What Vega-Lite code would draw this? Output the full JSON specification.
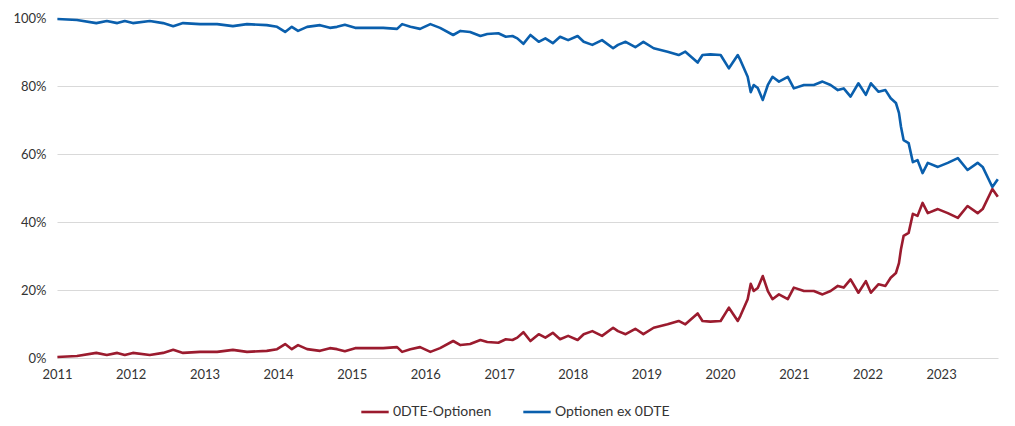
{
  "$schema": "https://vega.github.io/schema/vega-lite/v6.json",
  "width": 941,
  "height": 340,
  "autosize": {"type": "none"},
  "padding": {"left": 57, "top": 18, "right": 17, "bottom": 68},
  "background": "white",
  "config": {
    "view": {"stroke": null},
    "font": "Lato",
    "axis": {"labelFont": "Lato", "labelFontSize": 13, "labelColor": "#333333"},
    "legend": {"labelFont": "Lato", "labelFontSize": 14, "labelColor": "#333333"}
  },
  "data": {
    "values": [
      {"date": "2011-01-03", "0DTE-Optionen": 0.3, "Optionen ex 0DTE": 99.7},
      {"date": "2011-04-10", "0DTE-Optionen": 0.6, "Optionen ex 0DTE": 99.4},
      {"date": "2011-07-15", "0DTE-Optionen": 1.5, "Optionen ex 0DTE": 98.5},
      {"date": "2011-09-05", "0DTE-Optionen": 0.9, "Optionen ex 0DTE": 99.1},
      {"date": "2011-10-27", "0DTE-Optionen": 1.5, "Optionen ex 0DTE": 98.5},
      {"date": "2011-12-03", "0DTE-Optionen": 0.9, "Optionen ex 0DTE": 99.1},
      {"date": "2012-01-12", "0DTE-Optionen": 1.5, "Optionen ex 0DTE": 98.5},
      {"date": "2012-04-05", "0DTE-Optionen": 0.9, "Optionen ex 0DTE": 99.1},
      {"date": "2012-06-10", "0DTE-Optionen": 1.5, "Optionen ex 0DTE": 98.5},
      {"date": "2012-07-30", "0DTE-Optionen": 2.4, "Optionen ex 0DTE": 97.6},
      {"date": "2012-09-17", "0DTE-Optionen": 1.5, "Optionen ex 0DTE": 98.5},
      {"date": "2012-12-10", "0DTE-Optionen": 1.8, "Optionen ex 0DTE": 98.2},
      {"date": "2013-03-05", "0DTE-Optionen": 1.8, "Optionen ex 0DTE": 98.2},
      {"date": "2013-05-22", "0DTE-Optionen": 2.4, "Optionen ex 0DTE": 97.6},
      {"date": "2013-07-31", "0DTE-Optionen": 1.8, "Optionen ex 0DTE": 98.2},
      {"date": "2013-11-06", "0DTE-Optionen": 2.1, "Optionen ex 0DTE": 97.9},
      {"date": "2013-12-27", "0DTE-Optionen": 2.6, "Optionen ex 0DTE": 97.4},
      {"date": "2014-02-05", "0DTE-Optionen": 4.1, "Optionen ex 0DTE": 95.9},
      {"date": "2014-03-10", "0DTE-Optionen": 2.6, "Optionen ex 0DTE": 97.4},
      {"date": "2014-04-10", "0DTE-Optionen": 3.8, "Optionen ex 0DTE": 96.2},
      {"date": "2014-05-25", "0DTE-Optionen": 2.6, "Optionen ex 0DTE": 97.4},
      {"date": "2014-07-28", "0DTE-Optionen": 2.1, "Optionen ex 0DTE": 97.9},
      {"date": "2014-09-15", "0DTE-Optionen": 2.9, "Optionen ex 0DTE": 97.1},
      {"date": "2014-10-20", "0DTE-Optionen": 2.6, "Optionen ex 0DTE": 97.4},
      {"date": "2014-11-28", "0DTE-Optionen": 2.0, "Optionen ex 0DTE": 98.0},
      {"date": "2015-01-18", "0DTE-Optionen": 2.9, "Optionen ex 0DTE": 97.1},
      {"date": "2015-04-02", "0DTE-Optionen": 2.9, "Optionen ex 0DTE": 97.1},
      {"date": "2015-06-06", "0DTE-Optionen": 2.9, "Optionen ex 0DTE": 97.1},
      {"date": "2015-08-14", "0DTE-Optionen": 3.2, "Optionen ex 0DTE": 96.8},
      {"date": "2015-09-08", "0DTE-Optionen": 1.8, "Optionen ex 0DTE": 98.2},
      {"date": "2015-10-19", "0DTE-Optionen": 2.6, "Optionen ex 0DTE": 97.4},
      {"date": "2015-12-06", "0DTE-Optionen": 3.2, "Optionen ex 0DTE": 96.8},
      {"date": "2016-01-26", "0DTE-Optionen": 1.8, "Optionen ex 0DTE": 98.2},
      {"date": "2016-03-14", "0DTE-Optionen": 2.9, "Optionen ex 0DTE": 97.1},
      {"date": "2016-05-18", "0DTE-Optionen": 5.0, "Optionen ex 0DTE": 95.0},
      {"date": "2016-06-23", "0DTE-Optionen": 3.8, "Optionen ex 0DTE": 96.2},
      {"date": "2016-08-10", "0DTE-Optionen": 4.1, "Optionen ex 0DTE": 95.9},
      {"date": "2016-09-30", "0DTE-Optionen": 5.3, "Optionen ex 0DTE": 94.7},
      {"date": "2016-11-03", "0DTE-Optionen": 4.7, "Optionen ex 0DTE": 95.3},
      {"date": "2016-12-28", "0DTE-Optionen": 4.5, "Optionen ex 0DTE": 95.5},
      {"date": "2017-02-03", "0DTE-Optionen": 5.5, "Optionen ex 0DTE": 94.5},
      {"date": "2017-03-08", "0DTE-Optionen": 5.3, "Optionen ex 0DTE": 94.7},
      {"date": "2017-04-01", "0DTE-Optionen": 6.0, "Optionen ex 0DTE": 94.0},
      {"date": "2017-05-01", "0DTE-Optionen": 7.6, "Optionen ex 0DTE": 92.4},
      {"date": "2017-06-05", "0DTE-Optionen": 5.0, "Optionen ex 0DTE": 95.0},
      {"date": "2017-07-16", "0DTE-Optionen": 7.0, "Optionen ex 0DTE": 93.0},
      {"date": "2017-08-18", "0DTE-Optionen": 6.0, "Optionen ex 0DTE": 94.0},
      {"date": "2017-09-24", "0DTE-Optionen": 7.4, "Optionen ex 0DTE": 92.6},
      {"date": "2017-10-30", "0DTE-Optionen": 5.5, "Optionen ex 0DTE": 94.5},
      {"date": "2017-12-09", "0DTE-Optionen": 6.5, "Optionen ex 0DTE": 93.5},
      {"date": "2018-01-25", "0DTE-Optionen": 5.3, "Optionen ex 0DTE": 94.7},
      {"date": "2018-02-24", "0DTE-Optionen": 7.0, "Optionen ex 0DTE": 93.0},
      {"date": "2018-04-08", "0DTE-Optionen": 7.9, "Optionen ex 0DTE": 92.1},
      {"date": "2018-05-26", "0DTE-Optionen": 6.5, "Optionen ex 0DTE": 93.5},
      {"date": "2018-07-20", "0DTE-Optionen": 8.9, "Optionen ex 0DTE": 91.1},
      {"date": "2018-08-13", "0DTE-Optionen": 7.9, "Optionen ex 0DTE": 92.1},
      {"date": "2018-09-20", "0DTE-Optionen": 7.0, "Optionen ex 0DTE": 93.0},
      {"date": "2018-11-07", "0DTE-Optionen": 8.6, "Optionen ex 0DTE": 91.4},
      {"date": "2018-12-17", "0DTE-Optionen": 7.0, "Optionen ex 0DTE": 93.0},
      {"date": "2019-02-06", "0DTE-Optionen": 8.9, "Optionen ex 0DTE": 91.1},
      {"date": "2019-04-16", "0DTE-Optionen": 9.9, "Optionen ex 0DTE": 90.1},
      {"date": "2019-06-10", "0DTE-Optionen": 10.9, "Optionen ex 0DTE": 89.1},
      {"date": "2019-07-13", "0DTE-Optionen": 9.9, "Optionen ex 0DTE": 90.1},
      {"date": "2019-09-12", "0DTE-Optionen": 13.1, "Optionen ex 0DTE": 86.9},
      {"date": "2019-10-06", "0DTE-Optionen": 10.9, "Optionen ex 0DTE": 89.1},
      {"date": "2019-11-14", "0DTE-Optionen": 10.7, "Optionen ex 0DTE": 89.3},
      {"date": "2020-01-04", "0DTE-Optionen": 10.9, "Optionen ex 0DTE": 89.1},
      {"date": "2020-02-14", "0DTE-Optionen": 14.8, "Optionen ex 0DTE": 85.2},
      {"date": "2020-03-29", "0DTE-Optionen": 10.9, "Optionen ex 0DTE": 89.1},
      {"date": "2020-04-11", "0DTE-Optionen": 12.4, "Optionen ex 0DTE": 87.6},
      {"date": "2020-05-17", "0DTE-Optionen": 17.3, "Optionen ex 0DTE": 82.7},
      {"date": "2020-06-01", "0DTE-Optionen": 21.8, "Optionen ex 0DTE": 78.2},
      {"date": "2020-06-16", "0DTE-Optionen": 19.7, "Optionen ex 0DTE": 80.3},
      {"date": "2020-07-06", "0DTE-Optionen": 20.6, "Optionen ex 0DTE": 79.4},
      {"date": "2020-07-31", "0DTE-Optionen": 24.1, "Optionen ex 0DTE": 75.9},
      {"date": "2020-08-25", "0DTE-Optionen": 19.7, "Optionen ex 0DTE": 80.3},
      {"date": "2020-09-17", "0DTE-Optionen": 17.3, "Optionen ex 0DTE": 82.7},
      {"date": "2020-10-19", "0DTE-Optionen": 18.7, "Optionen ex 0DTE": 81.3},
      {"date": "2020-12-02", "0DTE-Optionen": 17.3, "Optionen ex 0DTE": 82.7},
      {"date": "2021-01-01", "0DTE-Optionen": 20.7, "Optionen ex 0DTE": 79.3},
      {"date": "2021-02-20", "0DTE-Optionen": 19.7, "Optionen ex 0DTE": 80.3},
      {"date": "2021-04-10", "0DTE-Optionen": 19.7, "Optionen ex 0DTE": 80.3},
      {"date": "2021-05-23", "0DTE-Optionen": 18.7, "Optionen ex 0DTE": 81.3},
      {"date": "2021-07-02", "0DTE-Optionen": 19.7, "Optionen ex 0DTE": 80.3},
      {"date": "2021-08-07", "0DTE-Optionen": 21.2, "Optionen ex 0DTE": 78.8},
      {"date": "2021-09-05", "0DTE-Optionen": 20.7, "Optionen ex 0DTE": 79.3},
      {"date": "2021-10-09", "0DTE-Optionen": 23.1, "Optionen ex 0DTE": 76.9},
      {"date": "2021-11-17", "0DTE-Optionen": 19.2, "Optionen ex 0DTE": 80.8},
      {"date": "2021-12-24", "0DTE-Optionen": 22.6, "Optionen ex 0DTE": 77.4},
      {"date": "2022-01-18", "0DTE-Optionen": 19.2, "Optionen ex 0DTE": 80.8},
      {"date": "2022-02-25", "0DTE-Optionen": 21.7, "Optionen ex 0DTE": 78.3},
      {"date": "2022-03-31", "0DTE-Optionen": 21.2, "Optionen ex 0DTE": 78.8},
      {"date": "2022-04-26", "0DTE-Optionen": 23.6, "Optionen ex 0DTE": 76.4},
      {"date": "2022-05-22", "0DTE-Optionen": 25.0, "Optionen ex 0DTE": 75.0},
      {"date": "2022-06-06", "0DTE-Optionen": 27.9, "Optionen ex 0DTE": 72.1},
      {"date": "2022-06-16", "0DTE-Optionen": 32.0, "Optionen ex 0DTE": 68.0},
      {"date": "2022-06-29", "0DTE-Optionen": 35.9, "Optionen ex 0DTE": 64.1},
      {"date": "2022-07-24", "0DTE-Optionen": 36.8, "Optionen ex 0DTE": 63.2},
      {"date": "2022-08-14", "0DTE-Optionen": 42.4, "Optionen ex 0DTE": 57.6},
      {"date": "2022-09-06", "0DTE-Optionen": 41.8, "Optionen ex 0DTE": 58.2},
      {"date": "2022-10-01", "0DTE-Optionen": 45.6, "Optionen ex 0DTE": 54.4},
      {"date": "2022-10-27", "0DTE-Optionen": 42.6, "Optionen ex 0DTE": 57.4},
      {"date": "2022-12-16", "0DTE-Optionen": 43.8, "Optionen ex 0DTE": 56.2},
      {"date": "2023-02-03", "0DTE-Optionen": 42.6, "Optionen ex 0DTE": 57.4},
      {"date": "2023-03-25", "0DTE-Optionen": 41.2, "Optionen ex 0DTE": 58.8},
      {"date": "2023-05-12", "0DTE-Optionen": 44.7, "Optionen ex 0DTE": 55.3},
      {"date": "2023-07-01", "0DTE-Optionen": 42.6, "Optionen ex 0DTE": 57.4},
      {"date": "2023-07-26", "0DTE-Optionen": 43.8, "Optionen ex 0DTE": 56.2},
      {"date": "2023-09-12", "0DTE-Optionen": 49.7, "Optionen ex 0DTE": 50.3},
      {"date": "2023-10-09", "0DTE-Optionen": 47.4, "Optionen ex 0DTE": 52.6}
    ]
  },
  "transform": [
    {"fold": ["0DTE-Optionen", "Optionen ex 0DTE"], "as": ["serie", "anteil"]}
  ],
  "mark": {"type": "line", "strokeWidth": 2.6, "strokeJoin": "round"},
  "encoding": {
    "x": {
      "field": "date",
      "type": "temporal",
      "scale": {"domain": ["2011-01-01", "2023-10-10"], "nice": false},
      "axis": {
        "title": null,
        "format": "%Y",
        "tickCount": {"interval": "year", "step": 1},
        "grid": false,
        "domain": false,
        "ticks": false,
        "labelPadding": 10,
        "labelFlush": false
      }
    },
    "y": {
      "field": "anteil",
      "type": "quantitative",
      "scale": {"domain": [0, 100], "nice": false},
      "axis": {
        "title": null,
        "values": [0, 20, 40, 60, 80, 100],
        "labelExpr": "datum.value + '%'",
        "domain": false,
        "ticks": false,
        "labelPadding": 11,
        "gridColor": "#d9d9d9",
        "gridWidth": 1.2
      }
    },
    "color": {
      "field": "serie",
      "type": "nominal",
      "sort": ["0DTE-Optionen", "Optionen ex 0DTE"],
      "scale": {"domain": ["0DTE-Optionen", "Optionen ex 0DTE"], "range": ["#9b1b2e", "#0a5fad"]},
      "legend": {
        "title": null,
        "orient": "none",
        "legendX": 303,
        "legendY": 379,
        "direction": "horizontal",
        "symbolType": "stroke",
        "symbolSize": 750,
        "symbolStrokeWidth": 2.6,
        "labelOffset": 3,
        "columnPadding": 26
      }
    }
  }
}
